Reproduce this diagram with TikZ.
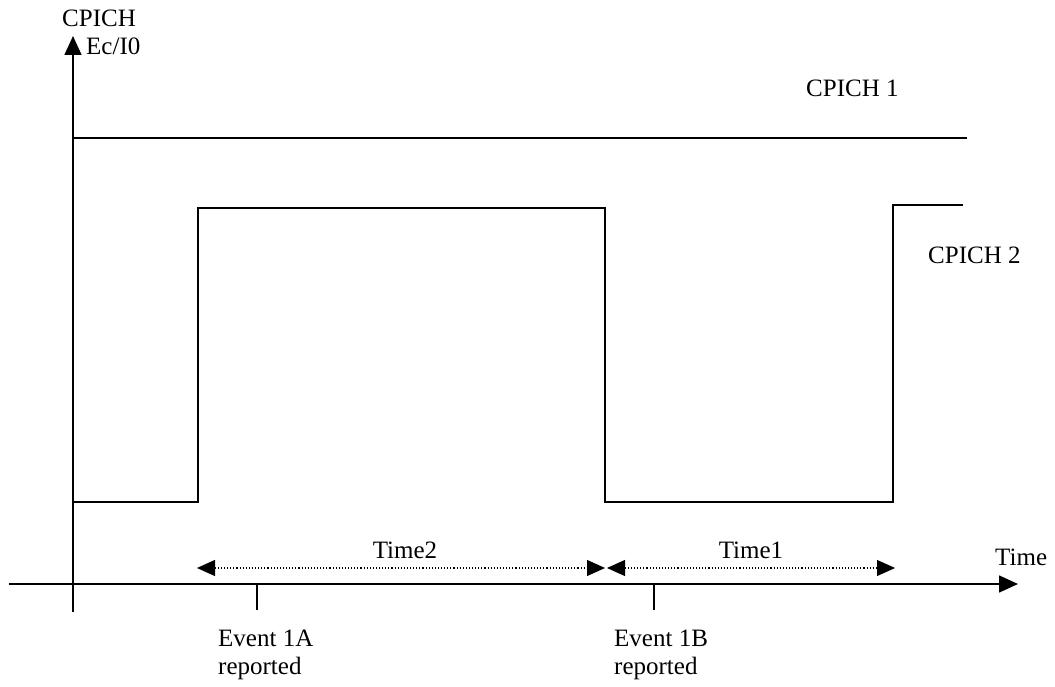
\documentclass[tikz,border=0pt]{standalone}
\usepackage{fontspec}
\setmainfont{Liberation Serif}
\usetikzlibrary{arrows.meta}
\begin{document}
\begin{tikzpicture}[x=1pt,y=-1pt,
  ax/.style={line width=1.6pt,-{Triangle[length=19pt,width=17pt]}},
  sig/.style={line width=1.6pt},
  tick/.style={line width=1.6pt},
  span/.style={line width=1.1pt,dotted,{Triangle[length=18pt,width=16pt]}-{Triangle[length=18pt,width=16pt]}},
  lbl/.style={font=\fontsize{25}{30}\selectfont,inner sep=0pt,anchor=west}]
\useasboundingbox (0,0) rectangle (1055,687);
% axes
\coordinate (yb) at (73,612);
\coordinate (yt) at (73,36);
\coordinate (xl) at (9,584);
\coordinate (xr) at (1018,584);
\draw[ax] (yb) -- (yt);
\draw[ax] (xl) -- (xr);
\node[lbl] (ylab1) at (62,18) {CPICH};
\node[lbl] (ylab2) at (86,46) {Ec/I0};
\node[lbl] (xlab) at (995,557) {Time};
% CPICH 1
\coordinate (c1a) at (73,138);
\coordinate (c1b) at (967,138);
\draw[sig] (c1a) -- (c1b);
\node[lbl] (c1lab) at (806,88) {CPICH 1};
% CPICH 2
\coordinate (c2a) at (73,502);
\coordinate (c2b) at (198,502);
\coordinate (c2c) at (198,208);
\coordinate (c2d) at (605,208);
\coordinate (c2e) at (605,502);
\coordinate (c2f) at (893,502);
\coordinate (c2g) at (893,205);
\coordinate (c2h) at (963,205);
\draw[sig] (c2a) -- (c2b) -- (c2c) -- (c2d) -- (c2e) -- (c2f) -- (c2g) -- (c2h);
\node[lbl] (c2lab) at (928,255) {CPICH 2};
% time spans
\coordinate (t2a) at (197,568);
\coordinate (t2b) at (605,568);
\coordinate (t1a) at (607,568);
\coordinate (t1b) at (895,568);
\draw[span] (t2a) -- (t2b);
\draw[span] (t1a) -- (t1b);
\node[lbl,anchor=center] (t2lab) at (405,550) {Time2};
\node[lbl,anchor=center] (t1lab) at (751,550) {Time1};
% events
\coordinate (e1t) at (257,584);
\coordinate (e1b) at (257,610);
\coordinate (e2t) at (654,584);
\coordinate (e2b) at (654,610);
\draw[tick] (e1t) -- (e1b);
\draw[tick] (e2t) -- (e2b);
\node[lbl] (ev1a) at (218,638) {Event 1A};
\node[lbl] (ev1b) at (218,668) {reported};
\node[lbl] (ev2a) at (614,638) {Event 1B};
\node[lbl] (ev2b) at (614,668) {reported};
\end{tikzpicture}
\end{document}
